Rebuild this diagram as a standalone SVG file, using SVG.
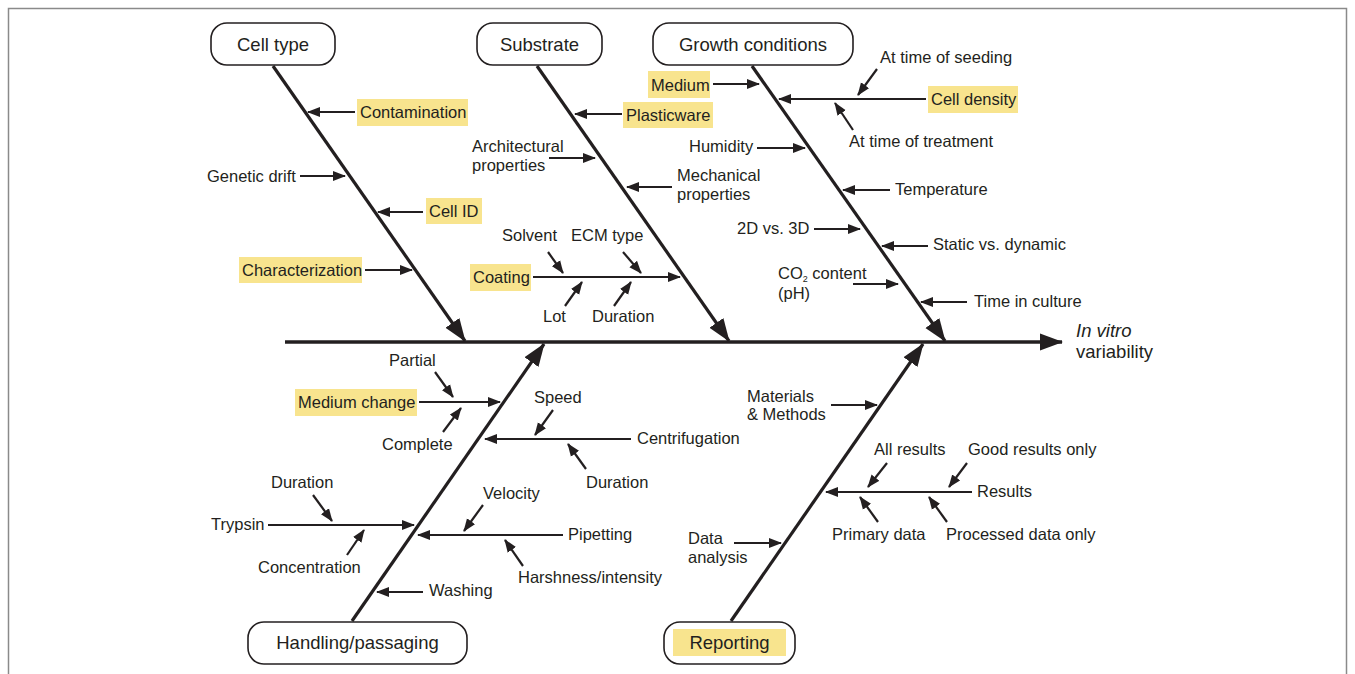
<svg xmlns="http://www.w3.org/2000/svg" width="1355" height="674" viewBox="0 0 1355 674">
<style>
text{font-family:"Liberation Sans",Arial,sans-serif;font-size:16.5px;fill:#231f20}
.t{font-size:18.5px}
.hl{fill:#f8e48e}
.box{fill:#fff;stroke:#231f20;stroke-width:1.6}
.s{stroke:#231f20;stroke-width:2.2;fill:none;marker-end:url(#a)}
.m{stroke:#231f20;stroke-width:3.2;fill:none;marker-end:url(#A)}
</style>
<defs>
<marker id="a" markerUnits="userSpaceOnUse" markerWidth="13" markerHeight="11" refX="12" refY="5.5" orient="auto"><path d="M0,0.5 L13,5.5 L0,10.5 z" fill="#231f20"/></marker>
<marker id="A" markerUnits="userSpaceOnUse" markerWidth="24" markerHeight="18" refX="22" refY="9" orient="auto"><path d="M0,0.5 L23,9 L0,17.5 z" fill="#231f20"/></marker>
</defs>
<rect x="8.5" y="8.5" width="1338" height="700" fill="#fff" stroke="#8a8a8a" stroke-width="1.5"/>
<g id="connectors">
<line x1="285" y1="342" x2="1062" y2="342" stroke="#231f20" stroke-width="3.5" marker-end="url(#A)"/>
<line class="m" x1="273" y1="66" x2="465" y2="341"/>
<line class="m" x1="537" y1="66" x2="729" y2="341"/>
<line class="m" x1="752" y1="66" x2="945" y2="341"/>
<line class="m" x1="352" y1="621" x2="544" y2="344"/>
<line class="m" x1="731" y1="621" x2="923" y2="344"/>
<line class="s" x1="355" y1="112" x2="308" y2="112"/>
<line class="s" x1="300" y1="176" x2="345" y2="176"/>
<line class="s" x1="423" y1="212" x2="378" y2="212"/>
<line class="s" x1="365" y1="270" x2="412" y2="270"/>
<line class="s" x1="622" y1="114" x2="575" y2="114"/>
<line class="s" x1="549" y1="158" x2="595" y2="158"/>
<line class="s" x1="672" y1="187" x2="627" y2="187"/>
<line class="s" x1="533" y1="277" x2="680" y2="277"/>
<line class="s" x1="548" y1="252" x2="563" y2="273"/>
<line class="s" x1="623" y1="252" x2="641" y2="273"/>
<line class="s" x1="565" y1="306" x2="582" y2="282"/>
<line class="s" x1="614" y1="306" x2="631" y2="282"/>
<line class="s" x1="713" y1="84" x2="759" y2="84"/>
<line class="s" x1="926" y1="99" x2="779" y2="99"/>
<line class="s" x1="877" y1="69" x2="858" y2="95"/>
<line class="s" x1="853" y1="130" x2="835" y2="103"/>
<line class="s" x1="757" y1="148" x2="805" y2="148"/>
<line class="s" x1="890" y1="190" x2="843" y2="190"/>
<line class="s" x1="814" y1="229" x2="860" y2="229"/>
<line class="s" x1="928" y1="246" x2="882" y2="246"/>
<line class="s" x1="853" y1="284" x2="898" y2="284"/>
<line class="s" x1="967" y1="302" x2="921" y2="302"/>
<line class="s" x1="419" y1="402" x2="500" y2="402"/>
<line class="s" x1="435" y1="372" x2="453" y2="397"/>
<line class="s" x1="443" y1="432" x2="461" y2="408"/>
<line class="s" x1="631" y1="439" x2="485" y2="439"/>
<line class="s" x1="553" y1="410" x2="535" y2="435"/>
<line class="s" x1="586" y1="469" x2="568" y2="444"/>
<line class="s" x1="268" y1="525" x2="414" y2="525"/>
<line class="s" x1="313" y1="495" x2="332" y2="521"/>
<line class="s" x1="347" y1="555" x2="364" y2="530"/>
<line class="s" x1="563" y1="535" x2="418" y2="535"/>
<line class="s" x1="483" y1="505" x2="464" y2="531"/>
<line class="s" x1="523" y1="566" x2="505" y2="540"/>
<line class="s" x1="423" y1="592" x2="377" y2="592"/>
<line class="s" x1="831" y1="405" x2="877" y2="405"/>
<line class="s" x1="972" y1="492" x2="826" y2="492"/>
<line class="s" x1="887" y1="463" x2="868" y2="487"/>
<line class="s" x1="967" y1="463" x2="949" y2="487"/>
<line class="s" x1="878" y1="522" x2="860" y2="497"/>
<line class="s" x1="947" y1="522" x2="929" y2="497"/>
<line class="s" x1="734" y1="543" x2="781" y2="543"/>
</g>
<g id="cell-type"><rect class="box" x="211" y="23" width="124" height="42" rx="16"/><text class="t" x="273" y="51" text-anchor="middle">Cell type</text></g>
<g id="substrate"><rect class="box" x="477" y="23" width="125" height="42" rx="16"/><text class="t" x="539.5" y="51" text-anchor="middle">Substrate</text></g>
<g id="growth-conditions"><rect class="box" x="653" y="23" width="200" height="42" rx="16"/><text class="t" x="753" y="51" text-anchor="middle">Growth conditions</text></g>
<g id="handling-passaging"><rect class="box" x="248" y="622" width="219" height="42" rx="16"/><text class="t" x="357.5" y="649" text-anchor="middle">Handling/passaging</text></g>
<g id="reporting"><rect class="box" x="664" y="622" width="131" height="42" rx="16"/><rect class="hl" x="673" y="629" width="113" height="27"/><text class="t" x="729.5" y="649" text-anchor="middle">Reporting</text></g>
<g id="effect"><text class="t" x="1076" y="337" font-style="italic">In vitro</text><text class="t" x="1076" y="358">variability</text></g>
<g id="cell-type-causes">
<rect class="hl" x="357" y="99" width="111" height="27"/><text x="360" y="118">Contamination</text>
<text x="207" y="182">Genetic drift</text>
<rect class="hl" x="426" y="198" width="56" height="26"/><text x="429" y="217">Cell ID</text>
<rect class="hl" x="239" y="257" width="123" height="26"/><text x="242" y="276">Characterization</text>
</g>
<g id="substrate-causes">
<rect class="hl" x="623" y="102" width="90" height="26"/><text x="626" y="121">Plasticware</text>
<text x="472" y="152">Architectural</text><text x="472" y="171">properties</text>
<text x="677" y="181">Mechanical</text><text x="677" y="200">properties</text>
<rect class="hl" x="470" y="264" width="61" height="27"/><text x="473" y="283">Coating</text>
<text x="502" y="241">Solvent</text>
<text x="571" y="241">ECM type</text>
<text x="543" y="322">Lot</text>
<text x="592" y="322">Duration</text>
</g>
<g id="growth-causes">
<rect class="hl" x="648" y="71" width="62" height="27"/><text x="651" y="91">Medium</text>
<rect class="hl" x="928" y="86" width="90" height="27"/><text x="931" y="105">Cell density</text>
<text x="880" y="63">At time of seeding</text>
<text x="849" y="147">At time of treatment</text>
<text x="689" y="152">Humidity</text>
<text x="895" y="195">Temperature</text>
<text x="737" y="234">2D vs. 3D</text>
<text x="933" y="250">Static vs. dynamic</text>
<text x="778" y="279">CO<tspan font-size="9" dy="3">2</tspan><tspan dy="-3"> content</tspan></text><text x="778" y="299">(pH)</text>
<text x="974" y="307">Time in culture</text>
</g>
<g id="handling-causes">
<rect class="hl" x="295" y="389" width="122" height="27"/><text x="298" y="408">Medium change</text>
<text x="389" y="366">Partial</text>
<text x="382" y="450">Complete</text>
<text x="534" y="403">Speed</text>
<text x="637" y="444">Centrifugation</text>
<text x="586" y="488">Duration</text>
<text x="271" y="488">Duration</text>
<text x="211" y="530">Trypsin</text>
<text x="258" y="573">Concentration</text>
<text x="483" y="499">Velocity</text>
<text x="568" y="540">Pipetting</text>
<text x="518" y="583">Harshness/intensity</text>
<text x="429" y="596">Washing</text>
</g>
<g id="reporting-causes">
<text x="747" y="402">Materials</text><text x="747" y="420">&amp; Methods</text>
<text x="874" y="455">All results</text>
<text x="968" y="455">Good results only</text>
<text x="977" y="497">Results</text>
<text x="832" y="540">Primary data</text>
<text x="946" y="540">Processed data only</text>
<text x="688" y="544">Data</text><text x="688" y="563">analysis</text>
</g>
</svg>
